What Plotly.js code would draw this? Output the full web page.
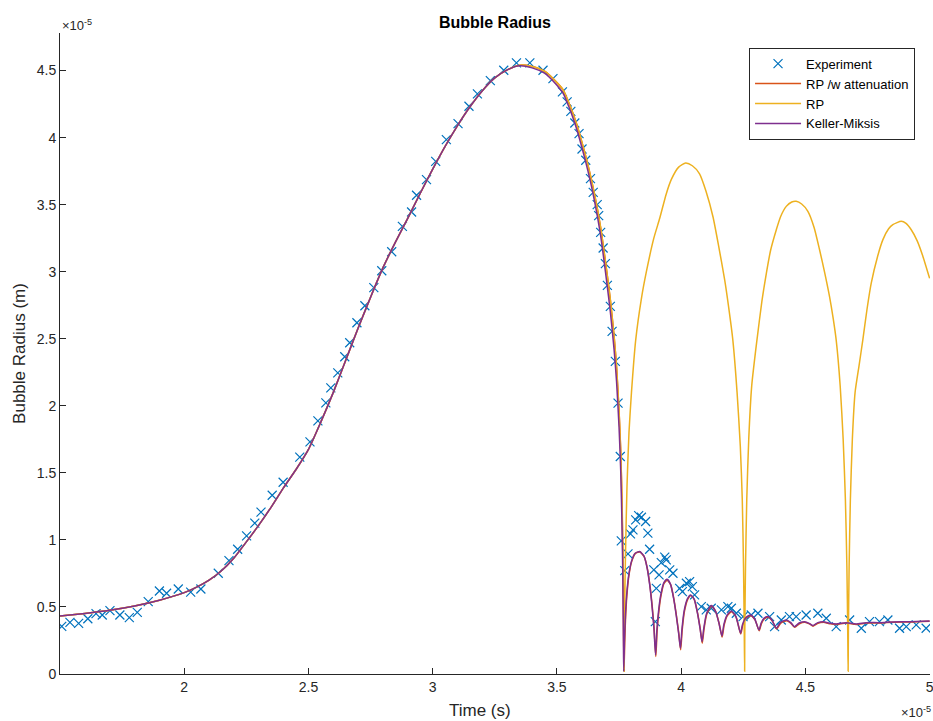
<!DOCTYPE html>
<html>
<head>
<meta charset="utf-8">
<script src="https://cdn.plot.ly/plotly-3.0.1.min.js"></script>
<style>html,body{margin:0;padding:0;background:#fff;}#chart{width:933px;height:721px;}</style>
</head>
<body>
<div id="chart"></div>
<script>
// Time in units of 1e-5 s, radius in units of 1e-5 m
const expT = [1.507,1.540,1.575,1.612,1.645,1.670,1.701,1.741,1.779,1.811,1.855,1.900,1.929,1.976,2.026,2.067,2.137,2.180,2.215,2.251,2.284,2.309,2.354,2.398,2.465,
  2.506,2.538,2.570,2.590,2.618,2.646,2.666,2.695,2.727,2.763,2.795,2.835,
  2.878,2.915,2.935,2.975,3.012,3.055,3.102,3.146,3.180,3.232,3.286,3.337,3.391,3.444,3.484,3.522,3.541,3.556,3.572,3.589,3.601,3.616,3.635,3.646,3.662,3.668,3.676,3.686,3.695,3.703,3.715,3.722,3.735,3.746,3.755,
  3.759,3.773,3.786,3.796,3.806,3.817,3.829,3.840,3.857,3.866,3.873,3.890,3.896,3.900,3.911,3.920,3.934,3.940,3.954,3.967,3.994,4.005,4.021,4.034,4.045,4.054,4.081,4.101,4.121,4.162,4.188,4.202,4.222,4.249,4.282,4.309,4.356,4.376,4.403,4.436,4.463,4.503,4.550,4.584,4.624,4.678,4.725,4.758,4.798,4.832,4.879,4.906,4.946,4.986];
const expR = [0.355,0.385,0.378,0.412,0.450,0.440,0.472,0.440,0.420,0.460,0.540,0.619,0.602,0.634,0.610,0.634,0.751,0.845,0.930,1.030,1.125,1.207,1.333,1.430,1.617,
  1.731,1.888,2.022,2.134,2.246,2.366,2.470,2.619,2.746,2.881,3.007,3.149,
  3.338,3.445,3.570,3.687,3.823,3.985,4.104,4.234,4.326,4.425,4.502,4.557,4.557,4.502,4.440,4.341,4.266,4.196,4.109,4.030,3.915,3.831,3.694,3.592,3.500,3.418,3.293,3.177,3.060,2.898,2.741,2.555,2.331,2.020,1.622,
  0.993,0.771,0.896,1.045,1.075,1.149,1.181,1.169,1.137,1.050,0.930,0.776,0.390,0.639,0.739,0.831,0.871,0.851,0.776,0.751,0.639,0.614,0.677,0.689,0.652,0.590,0.502,0.478,0.490,0.478,0.502,0.490,0.453,0.428,0.440,0.453,0.428,0.353,0.403,0.428,0.428,0.440,0.453,0.416,0.353,0.403,0.341,0.390,0.390,0.403,0.341,0.353,0.366,0.341];

// Keller-Miksis model
const kmT = [1.50,1.60,1.70,1.80,1.90,2.00,2.05,2.10,2.15,2.20,2.25,2.30,2.35,2.40,2.45,2.50,2.55,2.60,2.65,2.70,2.75,2.80,2.85,2.90,2.95,3.00,3.05,3.10,3.15,3.20,3.25,3.30,3.35,3.40,3.45,3.50,3.525,3.55,3.575,3.60,3.625,3.65,3.675,3.70,3.715,3.73,3.74,3.75,3.757,3.762,3.765,3.767,3.768,3.769,
  3.772,3.776,3.782,3.790,3.800,3.815,3.833,3.850,3.862,3.873,3.882,3.890,3.897,
  3.902,3.908,3.917,3.930,3.943,3.957,3.970,3.980,3.990,3.997,
  4.003,4.012,4.025,4.038,4.052,4.065,4.076,4.084,
  4.091,4.102,4.121,4.138,4.152,4.164,
  4.172,4.185,4.202,4.220,4.239,
  4.247,4.260,4.279,4.296,4.313,
  4.322,4.333,4.349,4.366,4.383,
  4.400,4.423,4.440,4.456,4.475,4.497,4.515,4.530,4.550,4.571,4.600,4.624,4.664,4.704,4.745,4.800,4.852,4.920,5.000];
const kmR = [0.433,0.452,0.475,0.507,0.550,0.607,0.648,0.700,0.770,0.865,0.985,1.110,1.245,1.390,1.525,1.675,1.880,2.100,2.340,2.580,2.810,3.030,3.220,3.400,3.585,3.765,3.935,4.090,4.230,4.350,4.445,4.505,4.535,4.520,4.480,4.390,4.330,4.220,4.090,3.930,3.750,3.540,3.280,2.930,2.700,2.420,2.180,1.840,1.500,1.100,0.750,0.400,0.150,0.020,
  0.250,0.450,0.620,0.750,0.840,0.900,0.913,0.880,0.800,0.670,0.520,0.350,0.142,
  0.320,0.450,0.580,0.680,0.706,0.670,0.560,0.440,0.300,0.192,
  0.330,0.470,0.560,0.590,0.560,0.460,0.340,0.241,
  0.340,0.450,0.510,0.470,0.380,0.284,
  0.370,0.440,0.470,0.430,0.304,
  0.370,0.420,0.440,0.410,0.328,
  0.380,0.415,0.428,0.400,0.341,
  0.385,0.403,0.385,0.353,0.380,0.390,0.378,0.361,0.383,0.390,0.378,0.373,0.383,0.373,0.383,0.383,0.388,0.390,0.396];

// Rayleigh-Plesset with attenuation
const rpwT = [1.50,1.60,1.70,1.80,1.90,2.00,2.05,2.10,2.15,2.20,2.25,2.30,2.35,2.40,2.45,2.50,2.55,2.60,2.65,2.70,2.75,2.80,2.85,2.90,2.95,3.00,3.05,3.10,3.15,3.20,3.25,3.30,3.35,3.40,3.45,3.50,3.525,3.55,3.575,3.60,3.625,3.65,3.675,3.70,3.715,3.73,3.74,3.75,3.757,3.762,3.765,3.767,3.768,3.770,
  3.773,3.777,3.783,3.791,3.801,3.816,3.834,3.851,3.863,3.874,3.883,3.891,3.898,
  3.903,3.909,3.918,3.931,3.944,3.958,3.971,3.981,3.991,3.998,
  4.004,4.013,4.026,4.039,4.053,4.066,4.077,4.085,
  4.092,4.103,4.122,4.139,4.153,4.165,
  4.173,4.186,4.203,4.221,4.240,
  4.248,4.261,4.280,4.297,4.314,
  4.323,4.334,4.350,4.367,4.384,
  4.401,4.424,4.441,4.457,4.476,4.498,4.516,4.531,4.551,4.572,4.601,4.625,4.665,4.705,4.746,4.801,4.853,4.921,5.000];
const rpwR = [0.433,0.452,0.475,0.507,0.550,0.607,0.648,0.700,0.770,0.865,0.985,1.110,1.245,1.390,1.525,1.675,1.880,2.100,2.340,2.580,2.810,3.030,3.220,3.400,3.585,3.765,3.935,4.090,4.230,4.350,4.445,4.505,4.540,4.530,4.495,4.410,4.355,4.250,4.125,3.970,3.795,3.590,3.340,3.010,2.790,2.520,2.290,1.960,1.650,1.250,0.900,0.550,0.300,0.020,
  0.250,0.450,0.620,0.750,0.840,0.900,0.910,0.875,0.795,0.665,0.515,0.345,0.130,
  0.315,0.445,0.575,0.675,0.700,0.665,0.555,0.435,0.295,0.180,
  0.325,0.465,0.555,0.585,0.555,0.455,0.335,0.230,
  0.335,0.445,0.505,0.465,0.375,0.275,
  0.365,0.435,0.465,0.425,0.298,
  0.365,0.415,0.435,0.405,0.322,
  0.375,0.410,0.423,0.395,0.336,
  0.380,0.398,0.380,0.348,0.375,0.386,0.374,0.357,0.379,0.386,0.374,0.370,0.380,0.370,0.380,0.380,0.386,0.388,0.394];

// Rayleigh-Plesset
const rpT = [1.50,1.60,1.70,1.80,1.90,2.00,2.05,2.10,2.15,2.20,2.25,2.30,2.35,2.40,2.45,2.50,2.55,2.60,2.65,2.70,2.75,2.80,2.85,2.90,2.95,3.00,3.05,3.10,3.15,3.20,3.25,3.30,3.35,3.40,3.45,3.50,3.525,3.55,3.575,3.60,3.625,3.65,3.675,3.70,3.715,3.73,3.74,3.75,3.757,3.762,3.765,3.768,3.7695,3.7705,
  3.772,3.776,3.782,3.790,3.800,3.817,3.840,3.860,3.890,3.914,3.940,3.961,3.990,4.018,4.045,4.074,4.100,4.128,4.150,4.175,4.190,4.208,4.225,4.238,4.246,4.251,4.254,4.2555,
  4.256,4.259,4.264,4.272,4.284,4.305,4.325,4.343,4.360,4.383,4.400,4.423,4.445,4.463,4.485,4.510,4.535,4.557,4.578,4.597,4.612,4.624,4.640,4.652,4.661,4.667,4.6705,4.672,
  4.673,4.676,4.681,4.689,4.700,4.716,4.731,4.748,4.765,4.790,4.812,4.835,4.852,4.886,4.905,4.926,4.950,4.973,5.000];
const rpR = [0.433,0.452,0.475,0.507,0.550,0.607,0.648,0.700,0.770,0.865,0.985,1.110,1.245,1.390,1.525,1.675,1.880,2.100,2.340,2.580,2.810,3.030,3.220,3.400,3.585,3.765,3.935,4.090,4.230,4.350,4.445,4.505,4.540,4.530,4.495,4.410,4.355,4.250,4.125,3.970,3.795,3.590,3.340,3.010,2.790,2.520,2.290,1.960,1.650,1.300,1.000,0.600,0.300,0.020,
  0.400,0.900,1.400,1.800,2.100,2.490,2.800,3.000,3.250,3.400,3.580,3.690,3.780,3.810,3.790,3.730,3.600,3.410,3.200,2.940,2.750,2.490,2.100,1.700,1.300,0.800,0.300,0.020,
  0.300,0.800,1.300,1.750,2.150,2.490,2.780,2.990,3.160,3.313,3.410,3.487,3.520,3.525,3.505,3.450,3.330,3.164,2.990,2.816,2.650,2.490,2.150,1.750,1.300,0.800,0.300,0.020,
  0.300,0.800,1.300,1.750,2.100,2.300,2.490,2.720,2.915,3.110,3.239,3.320,3.351,3.376,3.360,3.313,3.230,3.114,2.950];

const xTicks = [2,2.5,3,3.5,4,4.5,5];
const xTickLabels = ["2","2.5","3","3.5","4","4.5","5"];
const yTicks = [0,0.5,1,1.5,2,2.5,3,3.5,4,4.5];
const yTickLabels = ["0","0.5","1","1.5","2","2.5","3","3.5","4","4.5"];

const FONT = "Liberation Sans, Arial, Helvetica, sans-serif";
const AX = "#262626";

const traces = [
  {x: expT, y: expR, name: "Experiment", type: "scatter", mode: "markers",
   marker: {symbol: "x-thin-open", size: 9, color: "#0072BD", line: {width: 1.2, color: "#0072BD"}}},
  {x: rpwT, y: rpwR, name: "RP /w attenuation", type: "scatter", mode: "lines",
   line: {color: "#D95319", width: 1.5, shape: "spline", smoothing: 0.6}},
  {x: rpT, y: rpR, name: "RP", type: "scatter", mode: "lines",
   line: {color: "#EDB120", width: 1.5, shape: "spline", smoothing: 0.6}},
  {x: kmT, y: kmR, name: "Keller-Miksis", type: "scatter", mode: "lines",
   line: {color: "#7E2F8E", width: 1.5, shape: "spline", smoothing: 0.6}}
];

const layout = {
  width: 933, height: 721,
  margin: {l: 60, r: 3, t: 33, b: 47},
  paper_bgcolor: "#ffffff", plot_bgcolor: "#ffffff",
  font: {family: FONT, size: 14, color: AX},
  showlegend: true,
  legend: {x: 0.792, y: 0.977, xanchor: "left", yanchor: "top",
    bgcolor: "#ffffff", bordercolor: AX, borderwidth: 1, itemwidth: 46,
    font: {family: FONT, size: 13, color: "#000000"}, tracegroupgap: 0},
  xaxis: {range: [1.5, 5.0015], tickmode: "array", tickvals: xTicks, ticktext: xTickLabels,
    ticks: "inside", ticklen: 6, tickwidth: 1, tickcolor: AX, ticklabeloverflow: "allow",
    showline: true, linecolor: AX, linewidth: 1, mirror: false,
    showgrid: false, zeroline: false,
    tickfont: {family: FONT, size: 14, color: AX},
    title: {text: ""}},
  yaxis: {range: [0, 4.78], tickmode: "array", tickvals: yTicks, ticktext: yTickLabels,
    ticks: "inside", ticklen: 6, tickwidth: 1, tickcolor: AX,
    showline: true, linecolor: AX, linewidth: 1, mirror: false,
    showgrid: false, zeroline: false,
    tickfont: {family: FONT, size: 14, color: AX},
    title: {text: "Bubble Radius (m)", font: {family: FONT, size: 17, color: AX}, standoff: 6}},
  title: {text: "<b>Bubble Radius</b>", x: 0.5305, xanchor: "center", y: 0.969, yanchor: "middle",
    font: {family: FONT, size: 16, color: "#000000"}},
  annotations: [
    {xref: "paper", yref: "paper", x: 0.4825, y: 0, xanchor: "center", yanchor: "top", yshift: -25,
     text: "Time (s)", showarrow: false, font: {family: FONT, size: 17, color: AX}},
    {xref: "paper", yref: "paper", x: 0, y: 1, xanchor: "left", yanchor: "bottom", yshift: -2, xshift: 0,
     text: "×10<sup>-5</sup>", showarrow: false, font: {family: FONT, size: 13, color: AX}},
    {xref: "paper", yref: "paper", x: 1, y: 0, xanchor: "right", yanchor: "top", yshift: -28, xshift: 3,
     text: "×10<sup>-5</sup>", showarrow: false, font: {family: FONT, size: 13, color: AX}}
  ]
};

Plotly.newPlot("chart", traces, layout, {displayModeBar: false, staticPlot: true});
</script>
</body>
</html>
